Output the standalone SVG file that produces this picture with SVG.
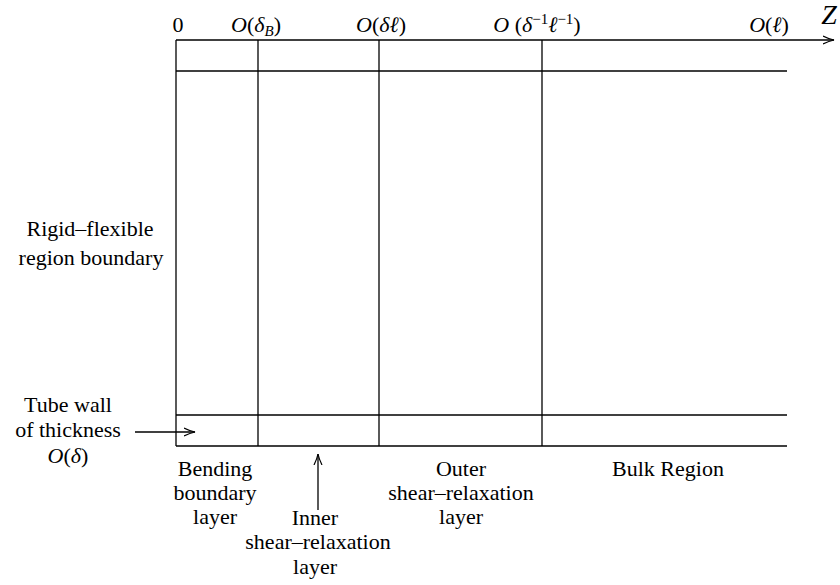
<svg xmlns="http://www.w3.org/2000/svg" width="840" height="585" viewBox="0 0 840 585">
<defs>
<style>
text{font-family:"Liberation Serif","DejaVu Serif",serif;font-size:22px;fill:#000}
.c{text-anchor:middle}
.i{font-style:italic}
.sub{font-size:15px}
.z{font-size:28px}
.ln{stroke:#000;stroke-width:1.3;fill:none}
</style>
<marker id="ah" viewBox="0 0 12 10" refX="11" refY="5" markerWidth="12" markerHeight="10" markerUnits="userSpaceOnUse" orient="auto">
<path d="M0,1 Q6,4 11,5 Q6,6 0,9" fill="none" stroke="#000" stroke-width="1.2"/>
</marker>
</defs>
<rect width="840" height="585" fill="#fff"/>
<g id="connectors">
<line class="ln" x1="176" y1="40" x2="834" y2="40" marker-end="url(#ah)"/>
<line class="ln" x1="176" y1="40" x2="176" y2="446"/>
<line class="ln" x1="176" y1="71" x2="787" y2="71"/>
<line class="ln" x1="176" y1="415" x2="787" y2="415"/>
<line class="ln" x1="176" y1="446" x2="787" y2="446"/>
<line class="ln" x1="258" y1="40" x2="258" y2="446"/>
<line class="ln" x1="379" y1="40" x2="379" y2="446"/>
<line class="ln" x1="542" y1="40" x2="542" y2="446"/>
<line class="ln" x1="135" y1="432" x2="195" y2="432" marker-end="url(#ah)"/>
<line class="ln" x1="318" y1="510" x2="318" y2="454" marker-end="url(#ah)"/>
</g>
<g id="axis-labels">
<text x="178" y="32" class="c">0</text>
<text x="256" y="32" class="c"><tspan class="i">O</tspan>(<tspan class="i">δ</tspan><tspan class="i sub" dy="4">B</tspan><tspan dy="-4">)</tspan></text>
<text x="381" y="32" class="c"><tspan class="i">O</tspan>(<tspan class="i">δℓ</tspan>)</text>
<text x="537" y="32" class="c"><tspan class="i">O</tspan> (<tspan class="i">δ</tspan><tspan class="sub" dy="-8">−1</tspan><tspan class="i" dy="8">ℓ</tspan><tspan class="sub" dy="-8">−1</tspan><tspan dy="8">)</tspan></text>
<text x="769" y="32" class="c"><tspan class="i">O</tspan>(<tspan class="i">ℓ</tspan>)</text>
<text x="829" y="24" class="c i z">Z</text>
</g>
<g id="rigid-flexible">
<text x="90" y="236" class="c">Rigid–flexible</text>
<text x="91" y="265" class="c">region boundary</text>
</g>
<g id="tube-wall">
<text x="68" y="412" class="c">Tube wall</text>
<text x="68" y="437" class="c">of thickness</text>
<text x="68" y="463" class="c"><tspan class="i">O</tspan>(<tspan class="i">δ</tspan>)</text>
</g>
<g id="bending">
<text x="215" y="476" class="c">Bending</text>
<text x="215" y="500" class="c">boundary</text>
<text x="215" y="524" class="c">layer</text>
</g>
<g id="inner">
<text x="315" y="525" class="c">Inner</text>
<text x="318" y="549" class="c">shear–relaxation</text>
<text x="315" y="574" class="c">layer</text>
</g>
<g id="outer">
<text x="461" y="476" class="c">Outer</text>
<text x="461" y="500" class="c">shear–relaxation</text>
<text x="461" y="524" class="c">layer</text>
</g>
<g id="bulk">
<text x="668" y="476" class="c">Bulk Region</text>
</g>
</svg>
